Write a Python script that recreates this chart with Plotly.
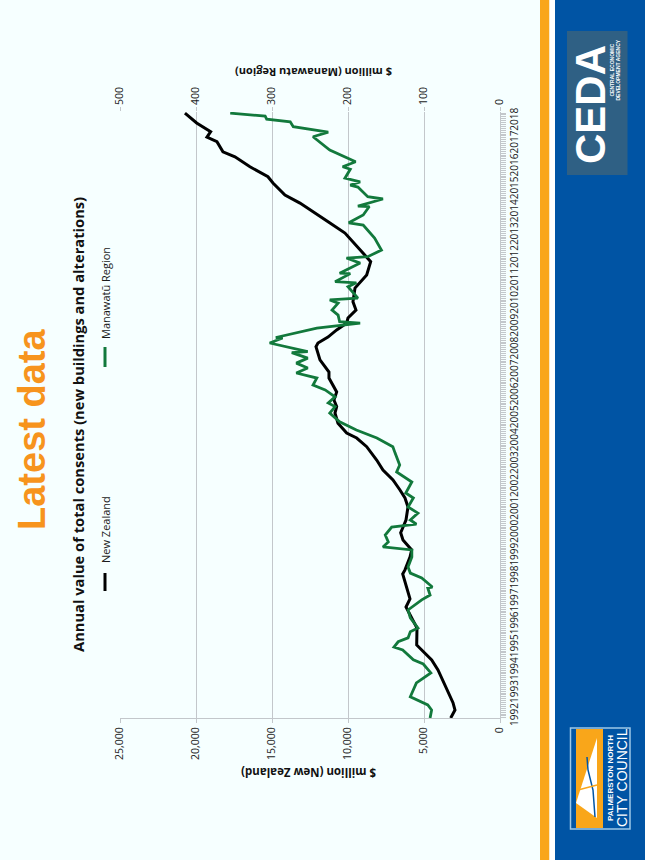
import plotly.graph_objects as go

W, H = 645, 860

years = list(range(1992, 2019))

nz_period = [1991.91,1992.26,1992.58,1993.06,1993.50,1994.01,1994.45,1994.81,1995.10,1995.84,1996.28,1996.76,1997.11,1997.63,1998.20,1998.38,1998.94,1999.25,1999.69,2000.00,2000.56,2001.13,2001.52,2001.87,2002.31,2002.74,2003.18,2003.76,2004.14,2004.36,2004.79,2005.23,2005.51,2005.80,2006.15,2006.76,2007.02,2007.55,2008.13,2008.29,2008.55,2008.86,2009.16,2009.38,2009.73,2010.09,2010.69,2011.26,2011.84,2012.22,2013.09,2013.53,2013.88,2014.40,2014.75,2015.28,2015.55,2015.99,2016.42,2016.64,2017.08,2017.28,2017.52,2017.90,2018.33]
nz_value = [3244,2961,3093,3422,3751,4080,4494,5067,5481,5461,5790,6185,5922,6139,6402,6251,5922,5810,6383,6534,6185,6054,6251,6580,7041,7699,8113,8771,9429,10087,10660,10857,10745,10923,10745,11252,11252,11844,12107,11976,11318,10745,10087,10002,9475,9673,9541,8771,8508,9015,10199,11186,11976,13160,14147,14937,15266,16450,17437,18227,18621,19279,19036,19957,20727]

mw_period = [1991.91,1992.26,1992.48,1992.79,1992.84,1993.44,1993.88,1994.27,1994.45,1994.88,1995.01,1995.24,1995.41,1995.68,1995.84,1996.28,1996.63,1997.07,1997.28,1997.59,1997.63,1998.03,1998.24,1998.51,1998.94,1999.25,1999.38,1999.60,1999.90,2000.25,2000.38,2000.56,2000.86,2001.13,2001.52,2001.74,2002.22,2002.66,2002.96,2003.48,2003.76,2004.14,2004.49,2004.85,2005.23,2005.51,2005.67,2005.94,2006.24,2006.45,2006.76,2006.98,2007.20,2007.41,2007.63,2007.87,2007.91,2008.29,2008.51,2008.53,2008.94,2009.16,2009.22,2009.51,2009.73,2010.03,2010.17,2010.25,2010.75,2010.92,2010.97,2011.32,2011.34,2011.78,2012.00,2012.06,2012.35,2012.87,2013.44,2013.54,2013.88,2014.25,2014.27,2014.58,2014.68,2015.10,2015.19,2015.33,2015.49,2015.88,2015.99,2016.21,2016.72,2017.30,2017.50,2017.74,2017.95,2018.07,2018.20,2018.33]
mw_value = [92,90,95,114,118,110,91,101,114,128,139.5,134,121,118,108,118,121,103,92,95,89,103,118,121,116,116,154,147,151,142.5,110,118,108,121,114,124,116,136,132,138,141,162,189,211,224,217,226,217,230,246,241,268,253,268,253,274,253,303,286,295,241,184,211,213,221,213,224,187,200,189,217,197,211,184,202,174,156,165,180,199,180,172,187,154,174,187,197,184,204,197,207,190,224,246,226,272,276,307,309,355]

BG = "#F6FFFF"
GRID = "#C3C7CB"
TXT = "#1a1a1a"
FONT = "Open Sans"
ORANGE = "#F9A61A"
BLUE = "#0054A4"


def px(x):
    return x / W


def py(y):
    return 1 - y / H


def rect(x0, y0, x1, y1, fill, line=None, width=0):
    return dict(type="rect", xref="paper", yref="paper", x0=px(x0), x1=px(x1), y0=py(y0), y1=py(y1),
                fillcolor=fill, line=dict(color=line or fill, width=width), layer="below")


def seg(x0, y0, x1, y1, color, width):
    return dict(type="line", xref="paper", yref="paper", x0=px(x0), x1=px(x1), y0=py(y0), y1=py(y1),
                line=dict(color=color, width=width))


def note(x, y, text, size, color, angle=-90, bold=False, family=FONT):
    return dict(xref="paper", yref="paper", x=px(x), y=py(y), text=f"<b>{text}</b>" if bold else text,
                showarrow=False, textangle=angle, xanchor="center", yanchor="middle",
                font=dict(size=size, color=color, family=family))


def path(points, closed=True):
    s = "M " + " L ".join(f"{px(a):.5f},{py(b):.5f}" for a, b in points)
    return s + (" Z" if closed else "")


fig = go.Figure()
fig.add_trace(go.Scatter(x=nz_value, y=nz_period, mode="lines", name="New Zealand", xaxis="x", yaxis="y",
                         line=dict(color="#000000", width=3), showlegend=False))
fig.add_trace(go.Scatter(x=mw_value, y=mw_period, mode="lines", name="Manawatū Region", xaxis="x2", yaxis="y",
                         line=dict(color="#12793C", width=2.8), showlegend=False))

shapes = [
    rect(540, 0, 549.5, 860, ORANGE),
    rect(549.5, 0, 555, 860, "#FFFFFF"),
    rect(555, 0, 645, 860, BLUE),
    rect(567, 31, 627.5, 175, "#2F6084"),
    rect(570.5, 728, 630, 829, BLUE, "#9CC7E8", 1.5),
    rect(576, 729, 603, 828, ORANGE),
    dict(type="path", xref="paper", yref="paper", path=path([(576, 803), (597, 738), (597, 818)]),
         fillcolor="#FFFFFF", line=dict(width=0)),
    dict(type="path", xref="paper", yref="paper", path=path([(587, 757), (588, 770), (593, 790), (595, 817)], False),
         line=dict(color=BLUE, width=1.5), fillcolor="rgba(0,0,0,0)"),
    seg(578, 790, 597, 785, ORANGE, 1.5),
    seg(105, 591, 105, 573, "#000000", 3),
    seg(105, 367, 105, 347, "#12793C", 3),
]

annotations = [
    note(32, 430, "Latest data", 38, "#F7941D", bold=True, family="Liberation Sans"),
    note(78, 425, "Annual value of total consents (new buildings and alterations)", 14.7, "#111111", bold=True),
    note(105, 530, "New Zealand", 11, TXT),
    note(105, 293, "Manawatū Region", 11, TXT),
    note(309, 773, "$ million (New Zealand)", 11.5, "#111111", angle=180, bold=True),
    note(314, 72, "$ million (Manawatu Region)", 11, "#111111", angle=180, bold=True),
    note(590, 105, "CEDA", 42, "#FFFFFF", bold=True, family="Liberation Sans"),
    note(611.5, 70, "CENTRAL ECONOMIC", 5, "#FFFFFF", bold=True, family="Liberation Sans"),
    note(617.5, 70, "DEVELOPMENT AGENCY", 5, "#FFFFFF", bold=True, family="Liberation Sans"),
    note(610, 778, "PALMERSTON NORTH", 8, "#FFFFFF", bold=True, family="Liberation Sans"),
    note(622, 778, "CITY COUNCIL", 14, "#FFFFFF", family="Liberation Sans"),
]

dom_x = [px(120), px(500)]
dom_y = [py(718), py(112)]

fig.update_layout(
    width=W, height=H, autosize=False,
    margin=dict(l=0, r=0, t=0, b=0, pad=0),
    paper_bgcolor=BG, plot_bgcolor=BG,
    showlegend=False,
    shapes=shapes, annotations=annotations,
    font=dict(family=FONT, color=TXT),
    xaxis=dict(domain=dom_x, range=[25000, 0], anchor="y", side="bottom", automargin=False,
               tickvals=[0, 5000, 10000, 15000, 20000, 25000], tickformat=",",
               tickangle=-90, tickfont=dict(size=10.5, color=TXT, family=FONT),
               showgrid=True, gridcolor=GRID, gridwidth=1, zeroline=False,
               showline=True, linecolor=GRID, linewidth=1,
               ticks="outside", ticklen=4, tickcolor=GRID),
    xaxis2=dict(domain=dom_x, range=[500, 0], anchor="y", overlaying="x", side="top", automargin=False,
                tickvals=[0, 100, 200, 300, 400, 500],
                tickangle=-90, tickfont=dict(size=10.5, color=TXT, family=FONT),
                showgrid=False, zeroline=False, showline=False,
                ticks="outside", ticklen=4, tickcolor=GRID),
    yaxis=dict(domain=dom_y, range=[1991.91, 2018.38], anchor="x", side="right", automargin=False,
               tickvals=years, ticktext=[str(v) for v in years],
               tickangle=-90, tickfont=dict(size=10, color=TXT, family=FONT),
               showgrid=False, zeroline=False, showline=True, linecolor=GRID, linewidth=1,
               ticks="outside", ticklen=5, tickcolor=GRID, tickwidth=1,
               minor=dict(dtick=1 / 12, tick0=1992, ticks="outside", ticklen=5, tickcolor=GRID, tickwidth=0.6, showgrid=False)),
)

post = "document.documentElement.style.margin='0';document.body.style.margin='0';document.documentElement.style.overflow='hidden';document.body.style.overflow='hidden';"
fig.write_html("out.html", post_script=post, config={"displayModeBar": False})
